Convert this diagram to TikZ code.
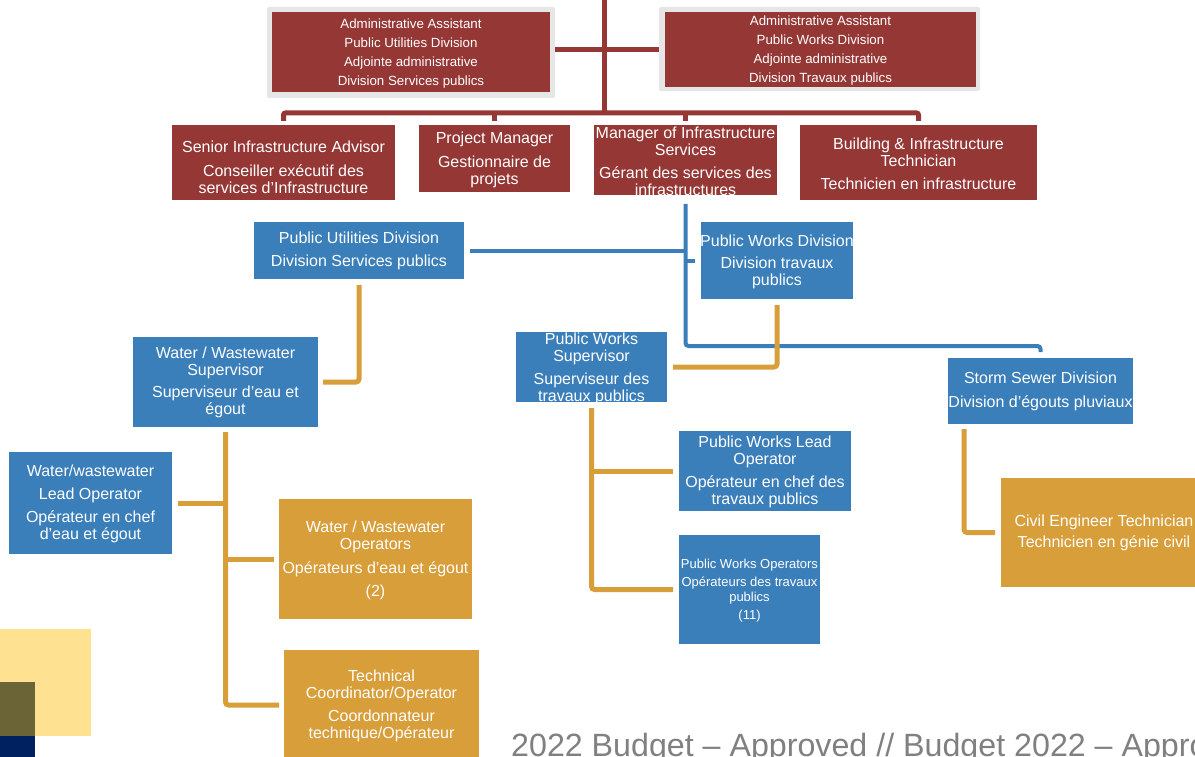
\documentclass[tikz,border=0pt]{standalone}
\usepackage{fontspec}
\setmainfont{Liberation Sans}
\usetikzlibrary{fit,calc}
\definecolor{cRed}{HTML}{953735}
\definecolor{cBlue}{HTML}{3B7FBA}
\definecolor{cGold}{HTML}{D89E3A}
\definecolor{cGray}{HTML}{E6E6E6}
\definecolor{cYellow}{HTML}{FEE291}
\definecolor{cOlive}{HTML}{6B6437}
\definecolor{cNavy}{HTML}{00215F}
\definecolor{cFoot}{HTML}{808080}
\begin{document}
\begin{tikzpicture}[x=1pt,y=-1pt,
  redbox/.style={fill=cRed,inner sep=0pt,outer sep=0pt},
  bluebox/.style={fill=cBlue,inner sep=0pt,outer sep=0pt},
  goldbox/.style={fill=cGold,inner sep=0pt,outer sep=0pt},
  graybox/.style={fill=cGray,rounded corners=2pt,inner sep=0pt,outer sep=0pt},
  txt/.style={text=white,align=center,inner sep=0pt,yshift=-1.5pt,font=\fontsize{16}{17}\selectfont},
  smalltxt/.style={txt,yshift=-0.5pt,font=\fontsize{13.3}{19}\selectfont},
  tinytxt/.style={txt,font=\fontsize{13}{15}\selectfont},
  redline/.style={draw=cRed,line width=5pt,rounded corners=2pt},
  blueline/.style={draw=cBlue,line width=4pt,rounded corners=3pt},
  goldline/.style={draw=cGold,line width=5pt,rounded corners=3pt}]
\clip (0,0) rectangle (1195,757);
\fill[white] (0,0) rectangle (1195,757);

% decorative squares
\fill[cYellow] (0,629) rectangle (91,736);
\fill[cOlive] (0,682) rectangle (35,736);
\fill[cNavy] (0,736) rectangle (35,757);

% boxes
\node[graybox, fit={(267,7)(555,98)}] (adm1) {};
\node[redbox, fit={(272,12)(550,92)}] (adm1r) {};
\node[graybox, fit={(659,7)(980,91)}] (adm2) {};
\node[redbox, fit={(665,12)(976,87)}] (adm2r) {};
\node[redbox, fit={(172,125)(395,200)}] (senior) {};
\node[redbox, fit={(419,125)(570,192)}] (pm) {};
\node[redbox, fit={(594,125)(777,195)}] (mgr) {};
\node[redbox, fit={(800,125)(1037,200)}] (bldg) {};
\node[bluebox, fit={(254,222)(464,279)}] (pud) {};
\node[bluebox, fit={(701,222)(853,299)}] (pwd) {};
\node[bluebox, fit={(133,337)(318,427)}] (wws) {};
\node[bluebox, fit={(9,452)(172,554)}] (wlo) {};
\node[goldbox, fit={(279,499)(472,619)}] (wwo) {};
\node[goldbox, fit={(284,650)(479,760)}] (tco) {};
\node[bluebox, fit={(516,332)(667,402)}] (pws) {};
\node[bluebox, fit={(679,431)(851,511)}] (pwl) {};
\node[bluebox, fit={(679,535)(820,644)}] (pwo) {};
\node[bluebox, fit={(948,358)(1133,424)}] (storm) {};
\node[goldbox, fit={(1001,478)(1209,587)}] (civ) {};

% red connectors
\coordinate (bus) at (604,113);
\coordinate (top) at (604,0);
\coordinate (admy) at (604,50);
\draw[redline] (top) -- (bus);
\draw[redline] ([yshift=4pt]senior.north) |- (bus) -| ([yshift=4pt]bldg.north);
\draw[redline] ([yshift=4pt]pm.north) -- (pm.north |- bus);
\draw[redline] ([yshift=4pt]mgr.north) -- (mgr.north |- bus);
\draw[redline] (adm1.east |- admy) -- (adm2.west |- admy);

% blue connectors
\coordinate (bend) at (860,346);
\draw[blueline] ([yshift=-9pt]mgr.south) |- (bend) -| ([yshift=6pt]storm.north);
\draw[blueline] (pwd.west -| mgr.south) -- ([xshift=-6pt]pwd.west);
\draw[blueline] ([xshift=6pt]pud.east) -- (pud.east -| mgr.south);

% gold connectors
\draw[goldline] ([yshift=-6pt]pud.south) |- ([xshift=5pt]wws.east);
\draw[goldline] ([yshift=-5pt]wws.south) |- ([xshift=-5pt]tco.west);
\draw[goldline] ([xshift=6pt]wlo.east) -- (wlo.east -| wws.south);
\draw[goldline] (wwo.west -| wws.south) -- ([xshift=-5pt]wwo.west);
\draw[goldline] ([yshift=-6pt]pwd.south) |- ([xshift=6pt]pws.east);
\draw[goldline] ([yshift=-6pt]pws.south) |- ([xshift=-6pt]pwo.west);
\draw[goldline] (pwl.west -| pws.south) -- ([xshift=-6pt]pwl.west);
\draw[goldline] ([shift={(16pt,-5pt)}]storm.south west) |- ([xshift=-6pt]civ.west);

% texts
\node[smalltxt] (adm1-t) at (411,51.5) {Administrative Assistant\\Public Utilities Division\\Adjointe administrative\\Division Services publics};
\node[smalltxt] (adm2-t) at (820.5,48.5) {Administrative Assistant\\Public Works Division\\Adjointe administrative\\Division Travaux publics};
\node[txt] (senior-t) at (283.5,165.5) {Senior Infrastructure Advisor\\[7pt]Conseiller exécutif des\\services d’Infrastructure};
\node[txt] (pm-t) at (494.5,158) {Project Manager\\[7pt]Gestionnaire de\\projets};
\node[txt] (mgr-t) at (685.5,159.5) {Manager of Infrastructure\\Services\\[6pt]Gérant des services des\\infrastructures};
\node[txt] (bldg-t) at (918.5,162) {Building \& Infrastructure\\Technician\\[6pt]Technicien en infrastructure};
\node[txt] (pud-t) at (359,249.5) {Public Utilities Division\\[6pt]Division Services publics};
\node[txt] (pwd-t) at (777,260.5) {Public Works Division\\[5pt]Division travaux\\publics};
\node[txt] (wws-t) at (225.5,381) {Water / Wastewater\\Supervisor\\[5pt]Superviseur d’eau et\\égout};
\node[txt] (wlo-t) at (90.5,502.5) {Water/wastewater\\[6pt]Lead Operator\\[6pt]Opérateur en chef\\d’eau et égout};
\node[txt] (wwo-t) at (375.5,558.5) {Water / Wastewater\\Operators\\[7pt]Opérateurs d’eau et égout\\[6pt](2)};
\node[txt] (tco-t) at (381.5,704.5) {Technical\\Coordinator/Operator\\[6pt]Coordonnateur\\technique/Opérateur};
\node[txt] (pws-t) at (591.5,367) {Public Works\\Supervisor\\[6pt]Superviseur des\\travaux publics};
\node[txt] (pwl-t) at (765,470.5) {Public Works Lead\\Operator\\[6pt]Opérateur en chef des\\travaux publics};
\node[tinytxt] (pwo-t) at (749.5,589.5) {Public Works Operators\\[3pt]Opérateurs des travaux\\publics\\[3pt](11)};
\node[txt] (storm-t) at (1040.5,390) {Storm Sewer Division\\[7pt]Division d’égouts pluviaux};
\node[txt] (civ-t) at (1104,531.5) {Civil Engineer Technician\\[4pt]Technicien en génie civil};

% footer
\node[anchor=base west, inner sep=0pt, text=cFoot, font=\fontsize{32.2}{33}\selectfont] (footer) at (511,756) {2022 Budget – Approved // Budget 2022 – Approuvé};
\end{tikzpicture}
\end{document}
